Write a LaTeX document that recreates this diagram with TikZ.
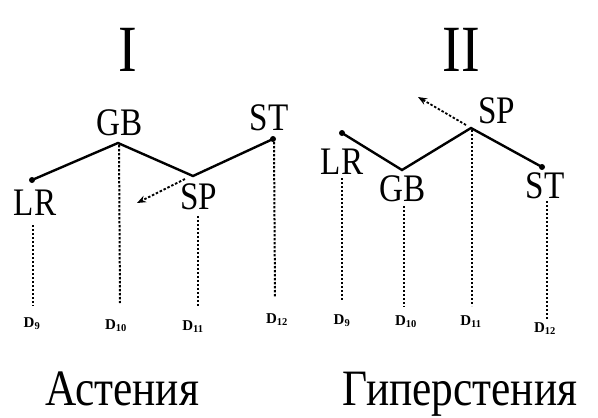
\documentclass[tikz,border=0pt]{standalone}
\usepackage{fontspec}
\setmainfont{Liberation Serif}
\usetikzlibrary{arrows.meta}
\newcommand{\hsq}[1]{\scalebox{0.85}[1]{#1}}
\newcommand{\dl}[1]{D\textsubscript{#1}}
\begin{document}
\begin{tikzpicture}[x=1pt,y=-1pt,
  lbl/.style={inner sep=0pt, font=\fontsize{39}{39}\selectfont},
  ttl/.style={inner sep=0pt, font=\fontsize{66}{66}\selectfont},
  capt/.style={inner sep=0pt, anchor=base, font=\fontsize{51}{51}\selectfont},
  dlab/.style={inner sep=0pt, font=\fontsize{15}{15}\selectfont\bfseries},
  chain/.style={line width=2.4pt, line join=miter},
  drop/.style={line width=2pt, dash pattern=on 2.4pt off 1.6pt},
  push/.style={line width=1.8pt, dash pattern=on 2.5pt off 1.8pt, -{Stealth[length=9pt,width=7pt]}},
  enddot/.style={circle, fill, inner sep=0pt, minimum size=6pt}]
\useasboundingbox[fill=white] (0,0) rectangle (598,418);

% ---------- Diagram I ----------
\node[ttl] (t1) at (128,50) {\hsq{I}};
\node[enddot] (lr1) at (32,180) {};
\coordinate (gb1) at (118,143);
\coordinate (sp1) at (193,176);
\node[enddot] (st1) at (273,139) {};
\draw[chain] (lr1.center) -- (gb1) -- (sp1) -- (st1.center);
\node[lbl] (lrl1) at (35,203) {\hsq{LR}};
\node[lbl] (gbl1) at (120,123) {\hsq{GB}};
\node[lbl] (spl1) at (199,197) {\hsq{SP}};
\node[lbl] (stl1) at (269,118) {\hsq{ST}};
\coordinate (a1s) at (185,179);
\coordinate (a1e) at (137,203);
\draw[push] (a1s) -- (a1e);

\coordinate (v1a) at (33,225);  \coordinate (w1a) at (33,306);
\coordinate (v1c) at (198,216); \coordinate (w1c) at (198,306);
\coordinate (w1b) at (120,303);
\coordinate (w1d) at (275,297);
\draw[drop] (v1a) -- (w1a);
\draw[drop] (gb1) ++(1,2) -- (w1b);
\draw[drop] (v1c) -- (w1c);
\draw[drop] (st1.center) ++(1,3) -- (w1d);
\node[dlab] (d1a) at (32,324) {\dl{9}};
\node[dlab] (d1b) at (116,326) {\dl{10}};
\node[dlab] (d1c) at (193,327) {\dl{11}};
\node[dlab] (d1d) at (277,320) {\dl{12}};
\node[capt] (c1) at (122,405) {\hsq{Астения}};

% ---------- Diagram II ----------
\node[ttl] (t2) at (461,50) {\hsq{II}};
\node[enddot] (lr2) at (342,133) {};
\coordinate (gb2) at (402,170);
\coordinate (sp2) at (471,128);
\node[enddot] (st2) at (542,167) {};
\draw[chain] (lr2.center) -- (gb2) -- (sp2) -- (st2.center);
\node[lbl] (lrl2) at (342,162) {\hsq{LR}};
\node[lbl] (gbl2) at (403,189) {\hsq{GB}};
\node[lbl] (spl2) at (497,111) {\hsq{SP}};
\node[lbl] (stl2) at (545,186) {\hsq{ST}};
\coordinate (a2s) at (466,125);
\coordinate (a2e) at (418,97);
\draw[push] (a2s) -- (a2e);

\coordinate (v2a) at (342,178); \coordinate (w2a) at (342,300);
\coordinate (v2b) at (404,206); \coordinate (w2b) at (404,307);
\coordinate (w2c) at (472,306);
\coordinate (v2d) at (547,201); \coordinate (w2d) at (547,320);
\draw[drop] (v2a) -- (w2a);
\draw[drop] (v2b) -- (w2b);
\draw[drop] (sp2) ++(1,2) -- (w2c);
\draw[drop] (v2d) -- (w2d);
\node[dlab] (d2a) at (342,321) {\dl{9}};
\node[dlab] (d2b) at (406,322) {\dl{10}};
\node[dlab] (d2c) at (471,322) {\dl{11}};
\node[dlab] (d2d) at (545,329) {\dl{12}};
\node[capt] (c2) at (460,405) {\hsq{Гиперстения}};
\end{tikzpicture}
\end{document}
